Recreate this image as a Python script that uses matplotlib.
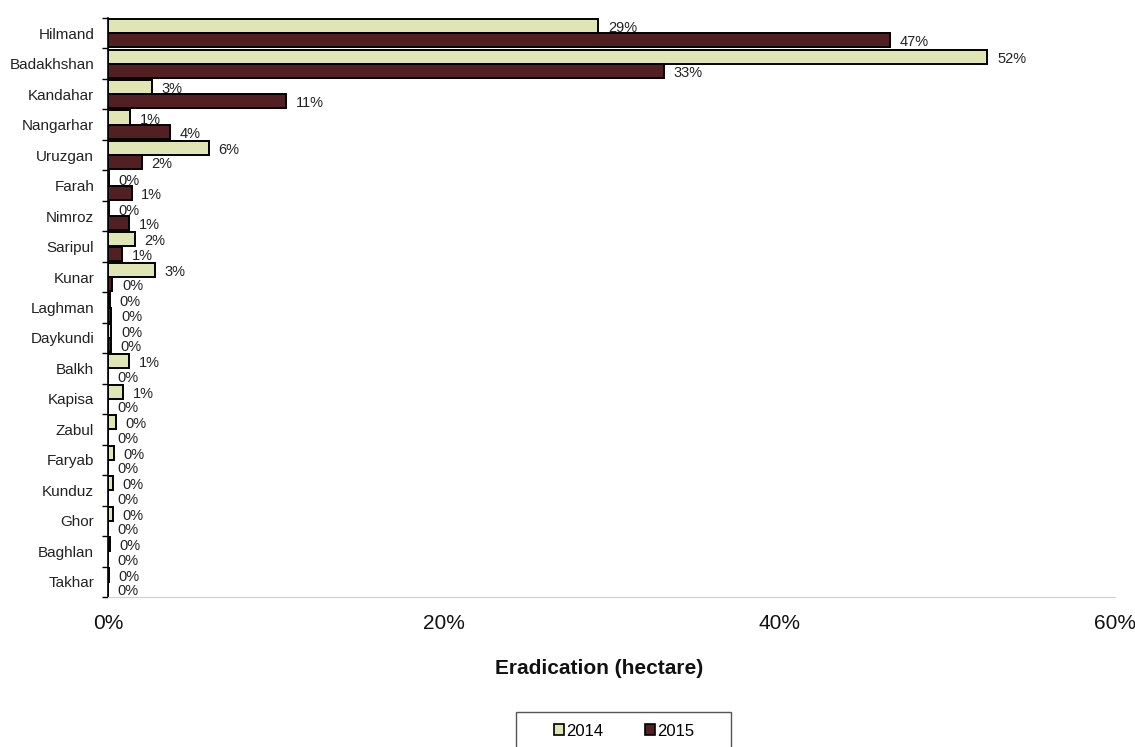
import matplotlib
matplotlib.use("Agg")
import matplotlib.pyplot as plt
from matplotlib.patches import Patch, Rectangle
from matplotlib.ticker import FixedLocator, FuncFormatter
import numpy as np

plt.rcParams["font.family"] = ["Liberation Sans", "DejaVu Sans"]

provinces = [
    "Hilmand", "Badakhshan", "Kandahar", "Nangarhar", "Uruzgan", "Farah",
    "Nimroz", "Saripul", "Kunar", "Laghman", "Daykundi", "Balkh", "Kapisa",
    "Zabul", "Faryab", "Kunduz", "Ghor", "Baghlan", "Takhar",
]
share_2014 = [29.2, 52.4, 2.6, 1.3, 6.0, 0.05, 0.05, 1.6, 2.8, 0.1, 0.2, 1.25,
              0.9, 0.45, 0.35, 0.3, 0.3, 0.1, 0.05]
share_2015 = [46.6, 33.1, 10.6, 3.7, 2.0, 1.4, 1.25, 0.85, 0.25, 0.2, 0.15, 0.0,
              0.0, 0.0, 0.0, 0.0, 0.0, 0.0, 0.0]
years = ["2014", "2015"]
x_ticks = [0, 20, 40, 60]

C14 = "#DFE5B3"
C15 = "#521F22"

fig = plt.figure(figsize=(11.35, 7.47), dpi=100)
ax = fig.add_axes([0.0952, 0.2008, 0.8872, 0.7751])

y = np.arange(len(provinces))
h = 0.46
ax.barh(y - 0.235, share_2014, height=h, color=C14, edgecolor="black", linewidth=1.4)
ax.barh(y + 0.235, share_2015, height=h, color=C15, edgecolor="black", linewidth=1.4)

for yi, v in zip(y, share_2014):
    ax.annotate(f"{v:.0f}%", (v, yi - 0.235), xytext=(7, -1.5), textcoords="offset points",
                ha="left", va="center", fontsize=10.5, color="#222222")
for yi, v in zip(y, share_2015):
    ax.annotate(f"{v:.0f}%", (v, yi + 0.235), xytext=(7, -1.5), textcoords="offset points",
                ha="left", va="center", fontsize=10.5, color="#222222")

ax.set_xlim(0, 60)
ax.set_ylim(len(provinces) - 0.5, -0.5)

ax.set_yticks(y)
ax.set_yticklabels(provinces, fontsize=11, color="#222222")
ax.yaxis.set_minor_locator(FixedLocator(np.arange(-0.5, len(provinces), 1.0)))
ax.tick_params(axis="y", which="major", length=0, pad=10)
ax.tick_params(axis="y", which="minor", length=4, width=1, color="black")

ax.set_xticks(x_ticks)
ax.xaxis.set_major_formatter(FuncFormatter(lambda v, p: f"{v:.0f}%"))
ax.tick_params(axis="x", length=0, labelsize=15, pad=12, colors="#111111")

ax.spines["top"].set_visible(False)
ax.spines["right"].set_visible(False)
ax.spines["left"].set_color("black")
ax.spines["left"].set_linewidth(1.2)
ax.spines["bottom"].set_color("#D0D0D0")

fig.text(0.528, 1 - 668 / 747, "Eradication (hectare)", ha="center", va="center",
         fontsize=15, fontweight="bold", color="#111111")

# legend box runs off the bottom of the page, as in the source
fig.patches.append(Rectangle((516 / 1135, -0.02), 215 / 1135, 0.02 + 35 / 747,
                             transform=fig.transFigure, facecolor="white",
                             edgecolor="#555555", linewidth=1))
handles = [Patch(facecolor=C14, edgecolor="black", linewidth=1.2),
           Patch(facecolor=C15, edgecolor="black", linewidth=1.2)]
fig.legend(handles, years, loc="center", bbox_to_anchor=(0.55, 1 - 731 / 747), ncol=2,
           frameon=False, fontsize=12, handlelength=0.6, handleheight=0.6,
           handletextpad=0.15, columnspacing=2.5)

fig.savefig("out.png", dpi=100)
